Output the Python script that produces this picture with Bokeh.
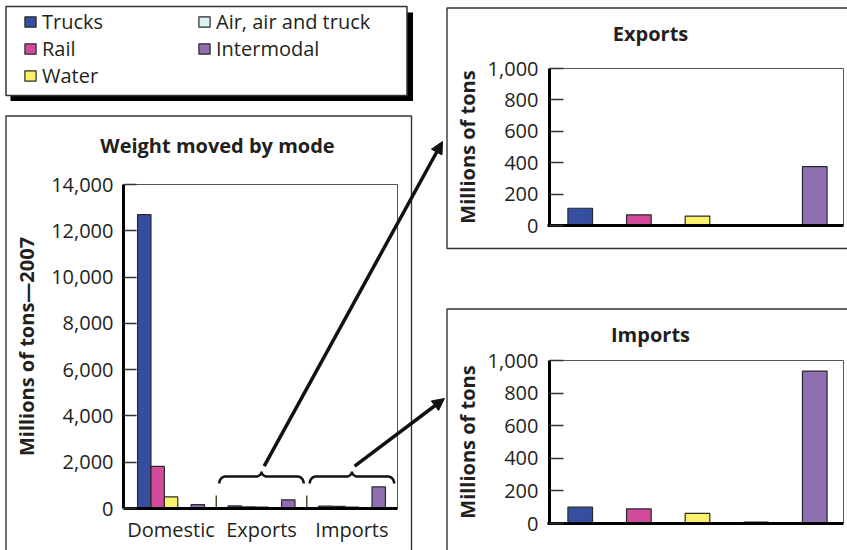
import math
from bokeh.plotting import figure
from bokeh.models import (Range1d, Legend, LegendItem, NumeralTickFormatter, FixedTicker,
                          LinearAxis, Arrow, NormalHead, Label)
from bokeh.embed import file_html
from bokeh.resources import INLINE

# ---------------- data ----------------
modes = ["Trucks", "Rail", "Water", "Air, air and truck", "Intermodal"]
groups = ["Domestic", "Exports", "Imports"]
domestic = [12700, 1820, 500, 4, 170]
exports = [110, 68, 60, 0, 375]
imports = [100, 90, 62, 8, 935]
colors = ["#344ea0", "#d24a9b", "#fbf26c", "#dcf1f6", "#8f6fb0"]
main_ticks = [0, 2000, 4000, 6000, 8000, 10000, 12000, 14000]
panel_ticks = [0, 200, 400, 600, 800, 1000]
main_title = "Weight moved by mode"
main_ylabel = "Millions of tons\u20142007"
panel_ylabel = "Millions of tons"
panel_titles = ["Exports", "Imports"]

FONT = "Open Sans"
TXT = "#231f20"
EDGE = "#2a2a2a"

# ---------------- canvas (data units of default ranges = page pixels) ----------------
OX, OY = 0, 0
CW, CH = 847, 550
p = figure(width=CW, height=CH, x_range=Range1d(OX, OX + CW), y_range=Range1d(OY + CH, OY),
           x_axis_type=None, y_axis_type=None, min_border=0,
           output_backend="svg", toolbar_location=None)
p.outline_line_color = None
p.background_fill_color = "white"
p.border_fill_color = "white"


def lin_range(v0, v1, q0, q1, qs, qe):
    k = (v1 - v0) / (q1 - q0)
    return Range1d(v0 + (qs - q0) * k, v0 + (qe - q0) * k)


# main chart geometry (page px)
SP = 6.75
MX0, MX1 = -1.55, 18.9
M_L, M_R, M_B, M_T = 123, 397, 508, 184
MYMAX = main_ticks[-1]
# side panels geometry
P_X0, P_X1 = -0.524, 4.49          # frame bounds in category-index units
P_L, P_R = 549, 843
EY_B, EY_T = 225, 68
IY_B, IY_T = 523, 360
PYMAX = panel_ticks[-1]

p.extra_x_ranges = {
    "mx": lin_range(MX0, MX1, M_L, M_R, OX, OX + CW),
    "px": lin_range(P_X0, P_X1, P_L, P_R, OX, OX + CW),
}
p.extra_y_ranges = {
    "my": lin_range(0, MYMAX, M_B, M_T, OY + CH, OY),
    "ey": lin_range(0, PYMAX, EY_B, EY_T, OY + CH, OY),
    "iy": lin_range(0, PYMAX, IY_B, IY_T, OY + CH, OY),
}


def to_mx(px):
    return MX0 + (px - M_L) / (M_R - M_L) * (MX1 - MX0)


def to_my(py):
    return (M_B - py) / (M_B - M_T) * MYMAX


# ---------------- boxes ----------------
LINE = "#333333"
# legend shadow + box
p.quad(left=[10], right=[412.5], top=[12], bottom=[100.5], fill_color="black", line_color=None)
p.quad(left=[5.5], right=[406.5], top=[6], bottom=[95], fill_color="white",
       line_color=LINE, line_width=1.5)
# panel boxes
p.quad(left=[5.5, 446.5, 446.5], right=[411, 900, 900], top=[115.5, 7.5, 308.5],
       bottom=[600, 248, 600], fill_color=None, line_color=LINE, line_width=1.4)

# ---------------- main chart ----------------
legend_items = []
for i, m in enumerate(modes):
    xs = [g * SP + i for g in range(len(groups))]
    tops = [domestic[i], exports[i], imports[i]]
    r = p.vbar(x=xs, top=tops, width=1.0, fill_color=colors[i], line_color=EDGE,
               line_width=1.2, x_range_name="mx", y_range_name="my")
    legend_items.append(LegendItem(label=m, renderers=[r]))

# outline (top + right)
p.line(x=[MX0, MX1, MX1], y=[MYMAX, MYMAX, 0], line_color="#555555", line_width=1,
       x_range_name="mx", y_range_name="my")

# group separators
sep_x = [g * SP - 1.375 for g in range(1, len(groups))]
p.segment(x0=sep_x, y0=[0] * len(sep_x), x1=sep_x, y1=[560] * len(sep_x),
          line_color="#4a4a2a", line_width=1.5, x_range_name="mx", y_range_name="my")


def brace(xl, xr, y_end, y_h, y_peak, rx, n=14):
    xc = (xl + xr) / 2
    lx, ly = [], []
    for k in range(n + 1):
        t = k / n * math.pi / 2
        lx.append(xl + rx - rx * math.cos(t))
        ly.append(y_end + (y_h - y_end) * math.sin(t))
    for k in range(n + 1):
        t = k / n * math.pi / 2
        lx.append(xc - rx + rx * math.sin(t))
        ly.append(y_peak - (y_peak - y_h) * math.cos(t))
    return lx + [2 * xc - v for v in reversed(lx)], ly + list(reversed(ly)), xc


arrow_ends = [(442, 141), (444, 398)]
for g in (1, 2):
    g0 = g * SP
    bx, by, xc = brace(g0 - 1.15, g0 + 5.15, 1080, 1380, 1600, 0.45)
    p.line(bx, by, line_color="#111111", line_width=2.5, x_range_name="mx", y_range_name="my")
    ex, ey = arrow_ends[g - 1]
    p.add_layout(Arrow(end=NormalHead(size=12, fill_color="#111111", line_color="#111111"),
                       x_start=xc + 0.2, y_start=1600 + 230, x_end=to_mx(ex), y_end=to_my(ey),
                       line_width=3.5, line_color="#111111",
                       x_range_name="mx", y_range_name="my"))


def style_axis(ax):
    ax.axis_line_width = 3
    ax.axis_line_color = "black"
    ax.minor_tick_line_color = None
    ax.major_label_text_font = FONT
    ax.major_label_text_font_size = "20px"
    ax.major_label_text_color = TXT
    ax.axis_label_text_font = FONT
    ax.axis_label_text_font_style = "bold"
    ax.axis_label_text_font_size = "20px"
    ax.axis_label_text_color = TXT


def y_axis(xr, yr, xloc, ymax, ticks, label, tick_in, standoff, label_standoff):
    ax = LinearAxis(x_range_name=xr, y_range_name=yr, fixed_location=xloc, bounds=(0, ymax),
                    ticker=FixedTicker(ticks=ticks), formatter=NumeralTickFormatter(format="0,0"),
                    axis_label=label)
    style_axis(ax)
    ax.major_tick_in = tick_in
    ax.major_tick_out = 0
    ax.major_tick_line_width = 1.5
    ax.major_tick_line_color = "#333333"
    ax.major_label_standoff = standoff
    ax.axis_label_standoff = label_standoff
    p.add_layout(ax, "left")
    return ax


def x_axis(xr, yr, xlo, xhi, ticks, overrides, standoff):
    ax = LinearAxis(x_range_name=xr, y_range_name=yr, fixed_location=0, bounds=(xlo, xhi),
                    ticker=FixedTicker(ticks=ticks))
    style_axis(ax)
    ax.major_label_overrides = overrides
    ax.major_tick_line_color = None
    ax.major_tick_in = 0
    ax.major_tick_out = 0
    ax.major_label_standoff = standoff
    p.add_layout(ax, "below")
    return ax


centers = [g * SP + 2 for g in range(len(groups))]
x_axis("mx", "my", MX0, MX1, centers, {c: g for c, g in zip(centers, groups)}, 7)
y_axis("mx", "my", MX0, MYMAX, main_ticks, main_ylabel, 13, 10, 8)

p.add_layout(Label(x=217, y=145, text=main_title, text_align="center", text_baseline="alphabetic",
                   text_font=FONT, text_font_size="20px", text_font_style="bold", text_color=TXT))

# ---------------- side panels ----------------
title_pos = [(650, 33), (650, 334)]
for vals, yr, title, (tx, ty) in zip([exports, imports], ["ey", "iy"], panel_titles, title_pos):
    p.vbar(x=list(range(len(modes))), top=vals, width=0.42, fill_color=colors, line_color=EDGE,
           line_width=1.2, x_range_name="px", y_range_name=yr)
    p.line(x=[P_X0, P_X1, P_X1], y=[PYMAX, PYMAX, 0], line_color="#555555", line_width=1,
           x_range_name="px", y_range_name=yr)
    x_axis("px", yr, P_X0 - 0.03, P_X1, [], {}, 0)
    y_axis("px", yr, P_X0, PYMAX, panel_ticks, panel_ylabel, 14, 11, 4)
    p.add_layout(Label(x=tx, y=ty, text=title, text_align="center", text_baseline="alphabetic",
                       text_font=FONT, text_font_size="20px", text_font_style="bold",
                       text_color=TXT))

# ---------------- legend ----------------
legend = Legend(items=legend_items, nrows=3, location=(23, 461), margin=0, padding=0, spacing=0,
                glyph_width=14, glyph_height=13, label_standoff=5, label_width=155,
                label_height=25, label_text_font=FONT, label_text_font_size="20px",
                label_text_color=TXT, border_line_alpha=0, background_fill_alpha=0)
p.add_layout(legend)

open("out.html", "w").write(file_html(p, INLINE))
